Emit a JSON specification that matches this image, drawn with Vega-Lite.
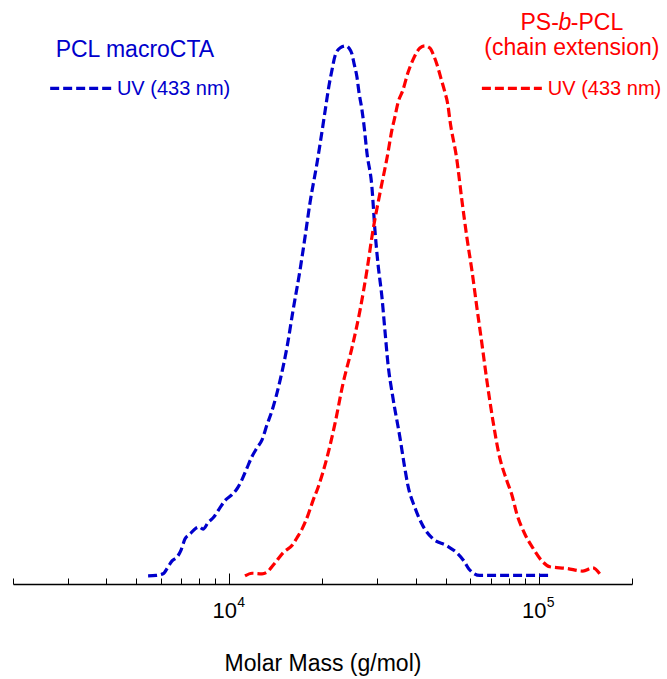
{
  "$schema": "https://vega.github.io/schema/vega-lite/v6.json",
  "width": 619,
  "height": 565,
  "autosize": {"type": "none"},
  "padding": {"left": 13, "top": 19, "right": 35, "bottom": 95},
  "background": "white",
  "config": {"view": {"stroke": null}, "font": "Liberation Sans"},
  "datasets": {
    "curves": [
      {"series": "PCL macroCTA", "group": "curve", "mass": 5464, "intensity": 0.015},
      {"series": "PCL macroCTA", "group": "curve", "mass": 5799, "intensity": 0.016},
      {"series": "PCL macroCTA", "group": "curve", "mass": 6108, "intensity": 0.019},
      {"series": "PCL macroCTA", "group": "curve", "mass": 6340, "intensity": 0.032},
      {"series": "PCL macroCTA", "group": "curve", "mass": 6531, "intensity": 0.043},
      {"series": "PCL macroCTA", "group": "curve", "mass": 6778, "intensity": 0.050},
      {"series": "PCL macroCTA", "group": "curve", "mass": 6982, "intensity": 0.063},
      {"series": "PCL macroCTA", "group": "curve", "mass": 7194, "intensity": 0.084},
      {"series": "PCL macroCTA", "group": "curve", "mass": 7466, "intensity": 0.093},
      {"series": "PCL macroCTA", "group": "curve", "mass": 7807, "intensity": 0.104},
      {"series": "PCL macroCTA", "group": "curve", "mass": 7984, "intensity": 0.106},
      {"series": "PCL macroCTA", "group": "curve", "mass": 8225, "intensity": 0.102},
      {"series": "PCL macroCTA", "group": "curve", "mass": 8536, "intensity": 0.114},
      {"series": "PCL macroCTA", "group": "curve", "mass": 8925, "intensity": 0.125},
      {"series": "PCL macroCTA", "group": "curve", "mass": 9333, "intensity": 0.142},
      {"series": "PCL macroCTA", "group": "curve", "mass": 9685, "intensity": 0.155},
      {"series": "PCL macroCTA", "group": "curve", "mass": 10202, "intensity": 0.166},
      {"series": "PCL macroCTA", "group": "curve", "mass": 10590, "intensity": 0.177},
      {"series": "PCL macroCTA", "group": "curve", "mass": 10990, "intensity": 0.194},
      {"series": "PCL macroCTA", "group": "curve", "mass": 11410, "intensity": 0.216},
      {"series": "PCL macroCTA", "group": "curve", "mass": 11840, "intensity": 0.237},
      {"series": "PCL macroCTA", "group": "curve", "mass": 12286, "intensity": 0.253},
      {"series": "PCL macroCTA", "group": "curve", "mass": 12754, "intensity": 0.268},
      {"series": "PCL macroCTA", "group": "curve", "mass": 13235, "intensity": 0.296},
      {"series": "PCL macroCTA", "group": "curve", "mass": 13735, "intensity": 0.322},
      {"series": "PCL macroCTA", "group": "curve", "mass": 14580, "intensity": 0.378},
      {"series": "PCL macroCTA", "group": "curve", "mass": 15357, "intensity": 0.440},
      {"series": "PCL macroCTA", "group": "curve", "mass": 16058, "intensity": 0.508},
      {"series": "PCL macroCTA", "group": "curve", "mass": 16916, "intensity": 0.583},
      {"series": "PCL macroCTA", "group": "curve", "mass": 17554, "intensity": 0.644},
      {"series": "PCL macroCTA", "group": "curve", "mass": 18219, "intensity": 0.708},
      {"series": "PCL macroCTA", "group": "curve", "mass": 19196, "intensity": 0.782},
      {"series": "PCL macroCTA", "group": "curve", "mass": 20073, "intensity": 0.853},
      {"series": "PCL macroCTA", "group": "curve", "mass": 20522, "intensity": 0.890},
      {"series": "PCL macroCTA", "group": "curve", "mass": 20985, "intensity": 0.926},
      {"series": "PCL macroCTA", "group": "curve", "mass": 21459, "intensity": 0.955},
      {"series": "PCL macroCTA", "group": "curve", "mass": 21943, "intensity": 0.981},
      {"series": "PCL macroCTA", "group": "curve", "mass": 22775, "intensity": 0.996},
      {"series": "PCL macroCTA", "group": "curve", "mass": 23814, "intensity": 1.000},
      {"series": "PCL macroCTA", "group": "curve", "mass": 24352, "intensity": 0.996},
      {"series": "PCL macroCTA", "group": "curve", "mass": 24901, "intensity": 0.985},
      {"series": "PCL macroCTA", "group": "curve", "mass": 25273, "intensity": 0.968},
      {"series": "PCL macroCTA", "group": "curve", "mass": 25844, "intensity": 0.942},
      {"series": "PCL macroCTA", "group": "curve", "mass": 26233, "intensity": 0.914},
      {"series": "PCL macroCTA", "group": "curve", "mass": 26826, "intensity": 0.881},
      {"series": "PCL macroCTA", "group": "curve", "mass": 27225, "intensity": 0.853},
      {"series": "PCL macroCTA", "group": "curve", "mass": 27840, "intensity": 0.801},
      {"series": "PCL macroCTA", "group": "curve", "mass": 28894, "intensity": 0.737},
      {"series": "PCL macroCTA", "group": "curve", "mass": 29547, "intensity": 0.657},
      {"series": "PCL macroCTA", "group": "curve", "mass": 30208, "intensity": 0.596},
      {"series": "PCL macroCTA", "group": "curve", "mass": 31126, "intensity": 0.533},
      {"series": "PCL macroCTA", "group": "curve", "mass": 31823, "intensity": 0.471},
      {"series": "PCL macroCTA", "group": "curve", "mass": 32541, "intensity": 0.410},
      {"series": "PCL macroCTA", "group": "curve", "mass": 33776, "intensity": 0.346},
      {"series": "PCL macroCTA", "group": "curve", "mass": 35588, "intensity": 0.272},
      {"series": "PCL macroCTA", "group": "curve", "mass": 36660, "intensity": 0.225},
      {"series": "PCL macroCTA", "group": "curve", "mass": 37757, "intensity": 0.183},
      {"series": "PCL macroCTA", "group": "curve", "mass": 39775, "intensity": 0.142},
      {"series": "PCL macroCTA", "group": "curve", "mass": 42209, "intensity": 0.108},
      {"series": "PCL macroCTA", "group": "curve", "mass": 45478, "intensity": 0.084},
      {"series": "PCL macroCTA", "group": "curve", "mass": 50466, "intensity": 0.071},
      {"series": "PCL macroCTA", "group": "curve", "mass": 54766, "intensity": 0.056},
      {"series": "PCL macroCTA", "group": "curve", "mass": 57255, "intensity": 0.043},
      {"series": "PCL macroCTA", "group": "curve", "mass": 59425, "intensity": 0.028},
      {"series": "PCL macroCTA", "group": "curve", "mass": 64476, "intensity": 0.016},
      {"series": "PCL macroCTA", "group": "curve", "mass": 74834, "intensity": 0.016},
      {"series": "PCL macroCTA", "group": "curve", "mass": 93524, "intensity": 0.016},
      {"series": "PCL macroCTA", "group": "curve", "mass": 110160, "intensity": 0.016},
      {"series": "PS-b-PCL", "group": "curve", "mass": 11237, "intensity": 0.015},
      {"series": "PS-b-PCL", "group": "curve", "mass": 11840, "intensity": 0.020},
      {"series": "PS-b-PCL", "group": "curve", "mass": 12754, "intensity": 0.019},
      {"series": "PS-b-PCL", "group": "curve", "mass": 13235, "intensity": 0.022},
      {"series": "PS-b-PCL", "group": "curve", "mass": 13634, "intensity": 0.030},
      {"series": "PS-b-PCL", "group": "curve", "mass": 14048, "intensity": 0.039},
      {"series": "PS-b-PCL", "group": "curve", "mass": 14910, "intensity": 0.058},
      {"series": "PS-b-PCL", "group": "curve", "mass": 16058, "intensity": 0.074},
      {"series": "PS-b-PCL", "group": "curve", "mass": 16544, "intensity": 0.086},
      {"series": "PS-b-PCL", "group": "curve", "mass": 17170, "intensity": 0.102},
      {"series": "PS-b-PCL", "group": "curve", "mass": 17954, "intensity": 0.128},
      {"series": "PS-b-PCL", "group": "curve", "mass": 18633, "intensity": 0.155},
      {"series": "PS-b-PCL", "group": "curve", "mass": 19337, "intensity": 0.179},
      {"series": "PS-b-PCL", "group": "curve", "mass": 20680, "intensity": 0.235},
      {"series": "PS-b-PCL", "group": "curve", "mass": 21943, "intensity": 0.298},
      {"series": "PS-b-PCL", "group": "curve", "mass": 23286, "intensity": 0.372},
      {"series": "PS-b-PCL", "group": "curve", "mass": 24901, "intensity": 0.439},
      {"series": "PS-b-PCL", "group": "curve", "mass": 26424, "intensity": 0.508},
      {"series": "PS-b-PCL", "group": "curve", "mass": 27840, "intensity": 0.583},
      {"series": "PS-b-PCL", "group": "curve", "mass": 29107, "intensity": 0.657},
      {"series": "PS-b-PCL", "group": "curve", "mass": 30656, "intensity": 0.726},
      {"series": "PS-b-PCL", "group": "curve", "mass": 32541, "intensity": 0.801},
      {"series": "PS-b-PCL", "group": "curve", "mass": 33521, "intensity": 0.844},
      {"series": "PS-b-PCL", "group": "curve", "mass": 34277, "intensity": 0.868},
      {"series": "PS-b-PCL", "group": "curve", "mass": 35053, "intensity": 0.894},
      {"series": "PS-b-PCL", "group": "curve", "mass": 36388, "intensity": 0.918},
      {"series": "PS-b-PCL", "group": "curve", "mass": 37757, "intensity": 0.950},
      {"series": "PS-b-PCL", "group": "curve", "mass": 39194, "intensity": 0.974},
      {"series": "PS-b-PCL", "group": "curve", "mass": 41288, "intensity": 0.996},
      {"series": "PS-b-PCL", "group": "curve", "mass": 42846, "intensity": 1.000},
      {"series": "PS-b-PCL", "group": "curve", "mass": 44463, "intensity": 0.996},
      {"series": "PS-b-PCL", "group": "curve", "mass": 45814, "intensity": 0.981},
      {"series": "PS-b-PCL", "group": "curve", "mass": 46838, "intensity": 0.966},
      {"series": "PS-b-PCL", "group": "curve", "mass": 48261, "intensity": 0.940},
      {"series": "PS-b-PCL", "group": "curve", "mass": 49716, "intensity": 0.914},
      {"series": "PS-b-PCL", "group": "curve", "mass": 50851, "intensity": 0.890},
      {"series": "PS-b-PCL", "group": "curve", "mass": 51604, "intensity": 0.862},
      {"series": "PS-b-PCL", "group": "curve", "mass": 54358, "intensity": 0.788},
      {"series": "PS-b-PCL", "group": "curve", "mass": 56423, "intensity": 0.713},
      {"series": "PS-b-PCL", "group": "curve", "mass": 58553, "intensity": 0.644},
      {"series": "PS-b-PCL", "group": "curve", "mass": 60771, "intensity": 0.583},
      {"series": "PS-b-PCL", "group": "curve", "mass": 63067, "intensity": 0.514},
      {"series": "PS-b-PCL", "group": "curve", "mass": 65464, "intensity": 0.447},
      {"series": "PS-b-PCL", "group": "curve", "mass": 67938, "intensity": 0.378},
      {"series": "PS-b-PCL", "group": "curve", "mass": 71043, "intensity": 0.304},
      {"series": "PS-b-PCL", "group": "curve", "mass": 74267, "intensity": 0.242},
      {"series": "PS-b-PCL", "group": "curve", "mass": 78826, "intensity": 0.192},
      {"series": "PS-b-PCL", "group": "curve", "mass": 81807, "intensity": 0.166},
      {"series": "PS-b-PCL", "group": "curve", "mass": 84918, "intensity": 0.130},
      {"series": "PS-b-PCL", "group": "curve", "mass": 90099, "intensity": 0.093},
      {"series": "PS-b-PCL", "group": "curve", "mass": 95634, "intensity": 0.067},
      {"series": "PS-b-PCL", "group": "curve", "mass": 102260, "intensity": 0.043},
      {"series": "PS-b-PCL", "group": "curve", "mass": 108520, "intensity": 0.032},
      {"series": "PS-b-PCL", "group": "curve", "mass": 123120, "intensity": 0.029},
      {"series": "PS-b-PCL", "group": "curve", "mass": 138730, "intensity": 0.024},
      {"series": "PS-b-PCL", "group": "curve", "mass": 149470, "intensity": 0.030},
      {"series": "PS-b-PCL", "group": "curve", "mass": 157400, "intensity": 0.019},
      {"series": "PCL macroCTA", "group": "key", "mass": 2637, "intensity": 0.921},
      {"series": "PCL macroCTA", "group": "key", "mass": 4181, "intensity": 0.921},
      {"series": "PS-b-PCL", "group": "key", "mass": 65464, "intensity": 0.921},
      {"series": "PS-b-PCL", "group": "key", "mass": 102260, "intensity": 0.921}
    ]
  },
  "layer": [
    {
      "data": {"name": "curves"},
      "mark": {"type": "line", "strokeDash": [9, 4], "strokeWidth": 3.2, "interpolate": "monotone"},
      "encoding": {
        "x": {
          "field": "mass", "type": "quantitative",
          "scale": {"type": "log", "domain": [2000, 200000], "nice": false},
          "axis": {
            "values": [2000, 3000, 4000, 5000, 6000, 7000, 8000, 9000, 10000, 20000, 30000, 40000, 50000, 60000, 70000, 80000, 90000, 100000, 200000],
            "labelExpr": "datum.value == 10000 || datum.value == 100000 ? '10' : ''",
            "tickSize": {"condition": {"test": "datum.value == 10000 || datum.value == 100000", "value": -11}, "value": -6},
            "labelPadding": 44,
            "labelOffset": -5,
            "labelBaseline": "alphabetic",
            "labelFont": "Liberation Sans",
            "labelFontSize": 22,
            "labelColor": "black",
            "labelFlush": false,
            "labelOverlap": false,
            "domainColor": "black",
            "domainWidth": 1.5,
            "tickColor": "black",
            "tickWidth": 1,
            "grid": false,
            "title": "Molar Mass (g/mol)",
            "titleFont": "Liberation Sans",
            "titleFontSize": 23,
            "titleFontWeight": "normal",
            "titleColor": "black",
            "titlePadding": 26
          }
        },
        "y": {
          "field": "intensity", "type": "quantitative",
          "scale": {"domain": [0, 1.05], "nice": false, "zero": false},
          "axis": null
        },
        "color": {
          "field": "series", "type": "nominal",
          "scale": {"domain": ["PCL macroCTA", "PS-b-PCL"], "range": ["#0000cc", "#ff0000"]},
          "legend": null
        },
        "detail": {"field": "group"}
      }
    },
    {
      "data": {"values": [
        {"text": "4", "mass": 10000, "intensity": -0.042},
        {"text": "5", "mass": 100000, "intensity": -0.042}
      ]},
      "mark": {"type": "text", "align": "left", "baseline": "alphabetic", "fontSize": 14, "font": "Liberation Sans", "color": "black", "dx": 8},
      "encoding": {
        "x": {"field": "mass", "type": "quantitative"},
        "y": {"field": "intensity", "type": "quantitative"},
        "text": {"field": "text"}
      }
    },
    {
      "data": {"values": [
        {"text": "PCL macroCTA", "series": "PCL macroCTA", "mass": 4953, "intensity": 0.979},
        {"text": "(chain extension)", "series": "PS-b-PCL", "mass": 127860, "intensity": 0.983}
      ]},
      "mark": {"type": "text", "align": "center", "baseline": "alphabetic", "fontSize": 23, "font": "Liberation Sans"},
      "encoding": {
        "x": {"field": "mass", "type": "quantitative"},
        "y": {"field": "intensity", "type": "quantitative"},
        "text": {"field": "text"},
        "color": {"field": "series", "type": "nominal", "legend": null}
      }
    },
    {
      "data": {"values": [
        {"text": "UV (433 nm)", "series": "PCL macroCTA", "mass": 4332, "intensity": 0.908},
        {"text": "UV (433 nm)", "series": "PS-b-PCL", "mass": 106930, "intensity": 0.908}
      ]},
      "mark": {"type": "text", "align": "left", "baseline": "alphabetic", "fontSize": 20, "font": "Liberation Sans"},
      "encoding": {
        "x": {"field": "mass", "type": "quantitative"},
        "y": {"field": "intensity", "type": "quantitative"},
        "text": {"field": "text"},
        "color": {"field": "series", "type": "nominal", "legend": null}
      }
    },
    {
      "data": {"values": [
        {"text": "PS-", "series": "PS-b-PCL", "mass": 121340, "intensity": 1.030}
      ]},
      "mark": {"type": "text", "align": "right", "baseline": "alphabetic", "fontSize": 23, "font": "Liberation Sans", "dx": -6},
      "encoding": {
        "x": {"field": "mass", "type": "quantitative"},
        "y": {"field": "intensity", "type": "quantitative"},
        "text": {"field": "text"},
        "color": {"field": "series", "type": "nominal", "legend": null}
      }
    },
    {
      "data": {"values": [
        {"text": "b", "series": "PS-b-PCL", "mass": 121340, "intensity": 1.030}
      ]},
      "mark": {"type": "text", "align": "center", "baseline": "alphabetic", "fontSize": 23, "font": "Liberation Sans", "fontStyle": "italic"},
      "encoding": {
        "x": {"field": "mass", "type": "quantitative"},
        "y": {"field": "intensity", "type": "quantitative"},
        "text": {"field": "text"},
        "color": {"field": "series", "type": "nominal", "legend": null}
      }
    },
    {
      "data": {"values": [
        {"text": "-PCL", "series": "PS-b-PCL", "mass": 121340, "intensity": 1.030}
      ]},
      "mark": {"type": "text", "align": "left", "baseline": "alphabetic", "fontSize": 23, "font": "Liberation Sans", "dx": 6},
      "encoding": {
        "x": {"field": "mass", "type": "quantitative"},
        "y": {"field": "intensity", "type": "quantitative"},
        "text": {"field": "text"},
        "color": {"field": "series", "type": "nominal", "legend": null}
      }
    }
  ]
}
